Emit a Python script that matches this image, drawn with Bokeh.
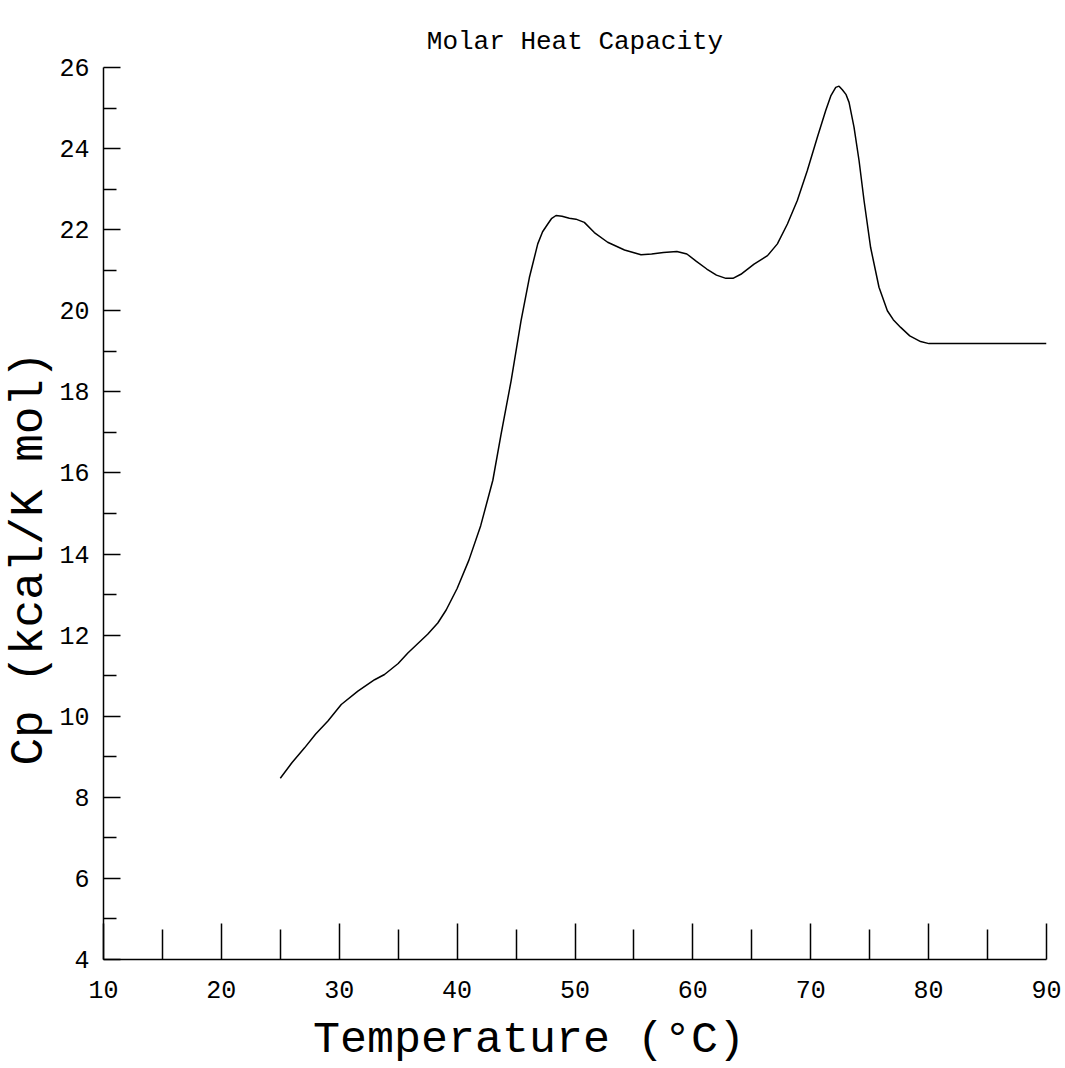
from bokeh.plotting import figure
from bokeh.models import Range1d, FixedTicker, Title
from bokeh.layouts import column
from bokeh.core.properties import value
from bokeh.embed import file_html
from bokeh.resources import INLINE

temperature = [25.0, 26.0, 27.06, 28.0, 29.04, 30.17, 31.58, 33.0, 33.84, 35.0, 35.82, 37.5,
               38.36, 39.07, 40.0, 41.0, 42.0, 43.03, 43.73, 44.58, 45.42, 46.13, 46.84,
               47.25, 47.69, 48.0, 48.39, 48.9, 49.52, 50.08, 50.79, 51.64, 52.77, 54.2,
               55.6, 56.5, 57.5, 58.64, 59.49, 60.3, 61.18, 62.0, 62.8, 63.4, 64.07, 65.19,
               66.33, 67.17, 68.02, 68.86, 69.71, 70.56, 71.27, 71.7, 72.12, 72.4, 72.68,
               73.0, 73.25, 73.67, 74.1, 74.52, 75.08, 75.79, 76.5, 77.0, 77.63, 78.4,
               79.32, 80.03, 90.0]
cp = [8.47, 8.86, 9.22, 9.56, 9.88, 10.29, 10.62, 10.9, 11.03, 11.3, 11.56, 12.02,
      12.3, 12.62, 13.15, 13.85, 14.7, 15.82, 16.96, 18.27, 19.75, 20.82, 21.65,
      21.95, 22.14, 22.27, 22.35, 22.33, 22.28, 22.26, 22.18, 21.93, 21.69, 21.5,
      21.38, 21.4, 21.44, 21.46, 21.4, 21.22, 21.03, 20.88, 20.8, 20.8, 20.9, 21.15,
      21.36, 21.65, 22.14, 22.72, 23.46, 24.28, 24.94, 25.3, 25.51, 25.54, 25.45,
      25.33, 25.14, 24.53, 23.7, 22.72, 21.56, 20.58, 20.0, 19.78, 19.59, 19.38,
      19.24, 19.19, 19.19]

x_major = [10, 20, 30, 40, 50, 60, 70, 80, 90]
x_minor = [15, 25, 35, 45, 55, 65, 75, 85]
y_major = [4, 6, 8, 10, 12, 14, 16, 18, 20, 22, 24, 26]
y_minor = [5, 7, 9, 11, 13, 15, 17, 19, 21, 23, 25]

title_text = "Molar Heat Capacity"
x_label_text = "Temperature (°C)"
y_label_text = "Cp (kcal/K mol)"

MONO = "Liberation Mono"

p = figure(width=1065, height=1012, output_backend="svg", toolbar_location=None,
           x_range=Range1d(10, 90), y_range=Range1d(4, 26),
           min_border_left=102, min_border_right=19, min_border_top=67, min_border_bottom=53)
p.outline_line_color = None
p.xgrid.visible = False
p.ygrid.visible = False
p.background_fill_color = "white"
p.border_fill_color = "white"

p.title.text = title_text
p.title.align = "center"
p.title.text_font = MONO
p.title.text_font_size = "26px"
p.title.text_font_style = "normal"
p.title.text_color = "black"
p.title.standoff = 22

p.line(temperature, cp, line_width=1.5, color="black")

xa = p.xaxis[0]
xa.ticker = FixedTicker(ticks=x_major, minor_ticks=x_minor)
xa.major_tick_in = 36
xa.major_tick_out = 0
xa.minor_tick_in = 30
xa.minor_tick_out = 0
xa.major_label_standoff = 21

ya = p.yaxis[0]
ya.ticker = FixedTicker(ticks=y_major, minor_ticks=y_minor)
ya.major_tick_in = 17
ya.major_tick_out = 0
ya.minor_tick_in = 13
ya.minor_tick_out = 0
ya.major_label_standoff = 14

for ax in (xa, ya):
    ax.axis_line_width = 1.5
    ax.axis_line_color = "black"
    ax.major_tick_line_width = 1.5
    ax.minor_tick_line_width = 1.5
    ax.major_tick_line_color = "black"
    ax.minor_tick_line_color = "black"
    ax.major_label_text_font = MONO
    ax.major_label_text_font_size = "25px"
    ax.major_label_text_color = "black"

p.add_layout(Title(text=y_label_text, align="left", offset=194,
                   text_font=MONO, text_font_size="46px", text_font_style="normal",
                   text_color="black", standoff=2), "left")

# strip holding the x-axis title, below the plot; its frame is aligned with the
# main plot's frame (pixels 102..1046), so its x range is expressed in page pixels
px = figure(width=1065, height=56, output_backend="svg", toolbar_location=None,
            title=None, x_range=Range1d(102, 1046), y_range=Range1d(0, 56),
            x_axis_type=None, y_axis_type=None,
            min_border_left=102, min_border_right=19, min_border_top=0, min_border_bottom=0)
px.outline_line_color = None
px.background_fill_color = "white"
px.border_fill_color = "white"
px.text(x=[528], y=[28], text=[x_label_text], text_font=value(MONO), text_font_size="45px",
        text_align="center", text_baseline="alphabetic", text_color="black")

layout = column(p, px, spacing=0)
open("out.html", "w").write(file_html(layout, INLINE))
